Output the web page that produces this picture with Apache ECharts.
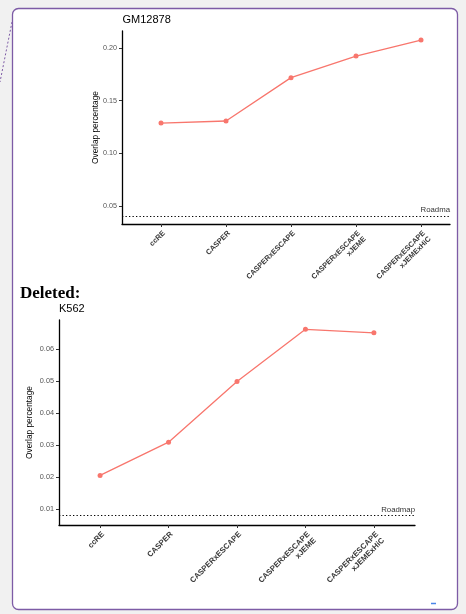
<!DOCTYPE html>
<html>
<head>
<meta charset="utf-8">
<script src="https://cdn.jsdelivr.net/npm/echarts@6/dist/echarts.min.js"></script>
<style>
html,body{margin:0;padding:0;background:#f1f1f1;}
#c{width:466px;height:614px;}
</style>
</head>
<body>
<div id="c"></div>
<script>
// ---- data ----
var categories = ['ccRE', 'CASPER', 'CASPERxESCAPE', 'CASPERxESCAPE\nxJEME', 'CASPERxESCAPE\nxJEMExHiC'];
var gm12878Values = [0.1288, 0.1307, 0.1719, 0.1924, 0.2076];
var k562Values = [0.0206, 0.0310, 0.0500, 0.0663, 0.0652];
var gm12878Roadmap = 0.0405;
var k562Roadmap = 0.0080;
var gm12878Ticks = [0.05, 0.10, 0.15, 0.20];
var k562Ticks = [0.01, 0.02, 0.03, 0.04, 0.05, 0.06];
var titles = ['GM12878', 'K562'];
var roadmapLabels = ['Roadma', 'Roadmap'];
var yAxisTitle = 'Overlap percentage';

var FONT = 'Liberation Sans, Arial, sans-serif';
var RED = '#F8766D';
var catIdx = categories.map(function (c, i) { return i; });

function pairs(vals) { return vals.map(function (v, i) { return [i, v]; }); }

function xAxisFor(gridIndex, max, fs) {
  return {
    type: 'value', gridIndex: gridIndex, min: -0.6, max: max,
    splitLine: { show: false },
    axisLine: { show: true, onZero: false, lineStyle: { color: '#000', width: 1.3 } },
    axisTick: { show: true, customValues: catIdx, length: 3, lineStyle: { color: '#333', width: 1 } },
    axisLabel: {
      customValues: catIdx, rotate: 45, margin: 5, fontSize: fs, fontFamily: FONT,
      color: '#3a3a3a', fontWeight: 'bold', verticalAlign: 'top', lineHeight: fs + 1,
      formatter: function (v) { return categories[Math.round(v)]; }
    }
  };
}
function yAxisFor(gridIndex, min, max, ticks, fs, gap) {
  return {
    type: 'value', gridIndex: gridIndex, min: min, max: max,
    splitLine: { show: false },
    axisLine: { show: true, onZero: false, lineStyle: { color: '#000', width: 1.3 } },
    axisTick: { show: true, customValues: ticks, length: 3, lineStyle: { color: '#333', width: 1 } },
    axisLabel: {
      customValues: ticks, margin: 5, fontSize: fs, fontFamily: FONT, color: '#555',
      formatter: function (v) { return v.toFixed(2); }
    },
    name: yAxisTitle, nameLocation: 'middle', nameRotate: 90, nameGap: gap,
    nameMoveOverlap: false,
    nameTextStyle: { fontSize: 8.3, fontFamily: FONT, color: '#000' }
  };
}
function seriesFor(idx, vals, roadmap, label) {
  return {
    type: 'line', xAxisIndex: idx, yAxisIndex: idx, data: pairs(vals),
    symbol: 'circle', symbolSize: 5, color: RED,
    lineStyle: { color: RED, width: 1.3 }, itemStyle: { color: RED },
    animation: false, silent: true,
    markLine: {
      silent: true, symbol: 'none', animation: false, precision: 5,
      lineStyle: { color: '#000', type: [1.3, 2.2], width: 1.2 },
      label: { show: true, position: 'insideEndTop', formatter: label, fontSize: 7.8,
               fontFamily: FONT, color: '#333', fontWeight: 'normal', distance: [0, 2] },
      data: [{ yAxis: roadmap }]
    }
  };
}

var chart = echarts.init(document.getElementById('c'), null, { renderer: 'canvas' });
chart.setOption({
  backgroundColor: '#f1f1f1',
  animation: false,
  title: [
    { text: titles[0], left: 122.5, top: 14.5, textStyle: { fontSize: 11, fontWeight: 'normal', fontFamily: FONT, color: '#000' }, padding: 0 },
    { text: titles[1], left: 59, top: 303, textStyle: { fontSize: 11, fontWeight: 'normal', fontFamily: FONT, color: '#000' }, padding: 0 }
  ],
  grid: [
    { left: 122, top: 31, width: 328, height: 193 },
    { left: 59, top: 320, width: 356, height: 205 }
  ],
  xAxis: [xAxisFor(0, -0.6 + 328 / 65, 7.4), xAxisFor(1, 4.6, 7.8)],
  yAxis: [yAxisFor(0, 0.0329, 0.2162, gm12878Ticks, 7.2, 22), yAxisFor(1, 0.0051, 0.0692, k562Ticks, 7.3, 25)],
  series: [
    seriesFor(0, gm12878Values, gm12878Roadmap, roadmapLabels[0]),
    seriesFor(1, k562Values, k562Roadmap, roadmapLabels[1])
  ],
  graphic: [
    { type: 'rect', z: -10, silent: true, shape: { x: 12.5, y: 8.5, width: 445, height: 601, r: 6 },
      style: { fill: '#fff', stroke: '#7d5ba6', lineWidth: 1.3 } },
    { type: 'line', z: -5, silent: true, shape: { x1: 12, y1: 22, x2: 0, y2: 82 },
      style: { stroke: '#7d5ba6', lineWidth: 1, lineDash: [2, 2] } },
    { type: 'text', z: 10, silent: true, x: 20, y: 285.5,
      style: { text: 'Deleted:', font: 'bold 17px "Liberation Serif", "Times New Roman", serif', fill: '#000', verticalAlign: 'top' } },
    { type: 'line', z: 10, silent: true, shape: { x1: 431, y1: 603.5, x2: 436, y2: 603.5 },
      style: { stroke: '#4a86e8', lineWidth: 1.5 } }
  ]
});
</script>
</body>
</html>
